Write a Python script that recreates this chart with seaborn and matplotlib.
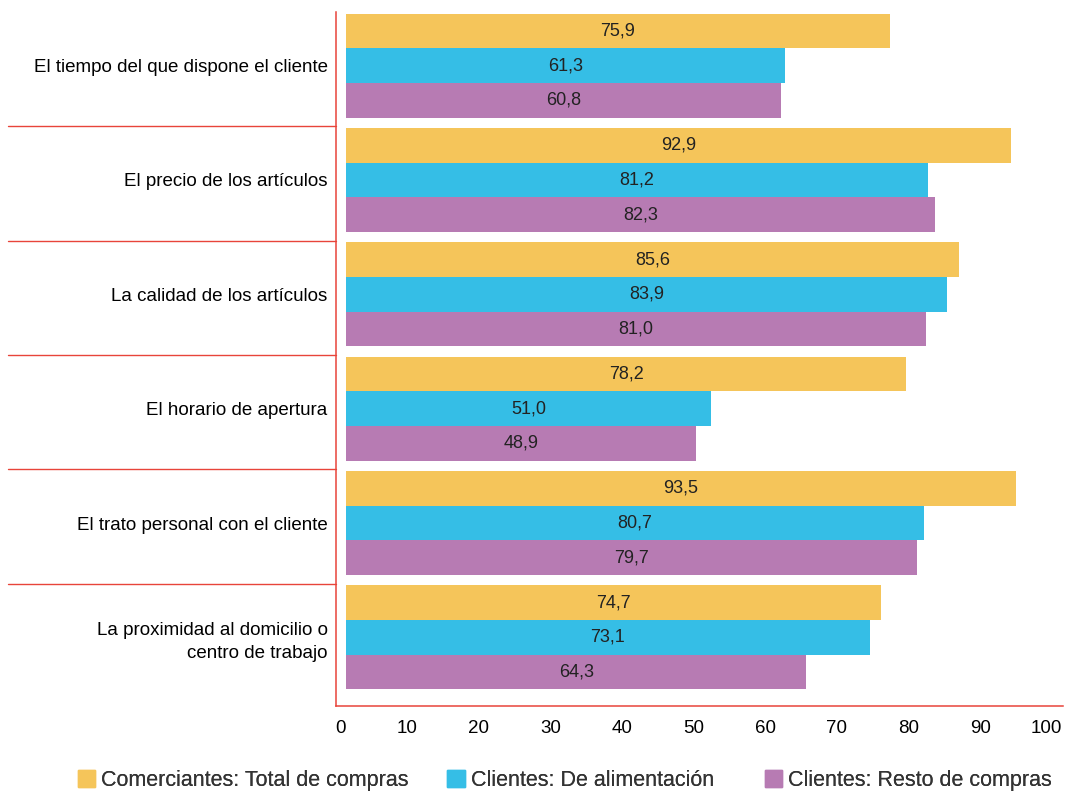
import matplotlib
matplotlib.use('Agg')
import matplotlib.pyplot as plt
import matplotlib.transforms as mtransforms
import pandas as pd
import seaborn as sns

categories = [
    'El tiempo del que dispone el cliente',
    'El precio de los artículos',
    'La calidad de los artículos',
    'El horario de apertura',
    'El trato personal con el cliente',
    'La proximidad al domicilio o\ncentro de trabajo',
]
series = ['Comerciantes: Total de compras', 'Clientes: De alimentación', 'Clientes: Resto de compras']
comerciantes = [75.9, 92.9, 85.6, 78.2, 93.5, 74.7]
alimentacion = [61.3, 81.2, 83.9, 51.0, 80.7, 73.1]
resto = [60.8, 82.3, 81.0, 48.9, 79.7, 64.3]
colors = ['#F5C55A', '#35BEE6', '#B77BB3']
red = '#E8443A'

df = pd.DataFrame({
    'cat': categories * 3,
    'serie': [series[0]] * 6 + [series[1]] * 6 + [series[2]] * 6,
    'valor': comerciantes + alimentacion + resto,
})

sns.set_style('white')
plt.rcParams['font.family'] = ['Liberation Sans', 'DejaVu Sans']

fig = plt.figure(figsize=(10.65, 7.91), dpi=100)
ax = fig.add_axes([0.3155, 0.1075, 0.6825, 0.8775])

sns.barplot(data=df, y='cat', x='valor', hue='serie', orient='h', palette=colors,
            width=0.91, saturation=1, linewidth=0, legend=False, ax=ax)

for cont in ax.containers:
    labels = [f'{b.get_width():.1f}'.replace('.', ',') for b in cont]
    ax.bar_label(cont, labels=labels, label_type='center', fontsize=13, color='#222222')

ax.set_xlim(-1.4, 100.1)
ax.set_ylim(5.6, -0.47)
ax.set_xticks(range(0, 101, 10))
ax.set_xlabel('')
ax.set_ylabel('')
ax.tick_params(axis='x', colors=red, length=6, width=1.2, labelcolor='black', labelsize=13.5, pad=4)
ax.tick_params(axis='y', length=0, labelsize=13.5, pad=6, labelcolor='black')
for lab in ax.get_xticklabels():
    lab.set_horizontalalignment('right')
for lab in ax.get_yticklabels():
    lab.set_linespacing(1.45)
for s in ['top', 'right']:
    ax.spines[s].set_visible(False)
for s in ['left', 'bottom']:
    ax.spines[s].set_color(red)
    ax.spines[s].set_linewidth(1.1)

# separator lines between categories, extending left into the label area
trans = mtransforms.blended_transform_factory(fig.transFigure, ax.transData)
for i in range(len(categories) - 1):
    ax.plot([0.0075, 0.3155], [i + 0.53, i + 0.53], color=red, lw=1.0,
            transform=trans, clip_on=False)

# legend entries sit at fixed positions along the bottom
legend_x = [0.073, 0.42, 0.718]
for name, c, lx in zip(series, colors, legend_x):
    leg = fig.legend([plt.Rectangle((0, 0), 1, 1, color=c)], [name], loc='lower left',
                     bbox_to_anchor=(lx, 0.0), frameon=False, fontsize=15.5,
                     handlelength=0.8, handleheight=0.8, handletextpad=0.3,
                     borderpad=0, borderaxespad=0, labelcolor='#333333')
    fig.add_artist(leg)

fig.savefig('out.png', dpi=100)
